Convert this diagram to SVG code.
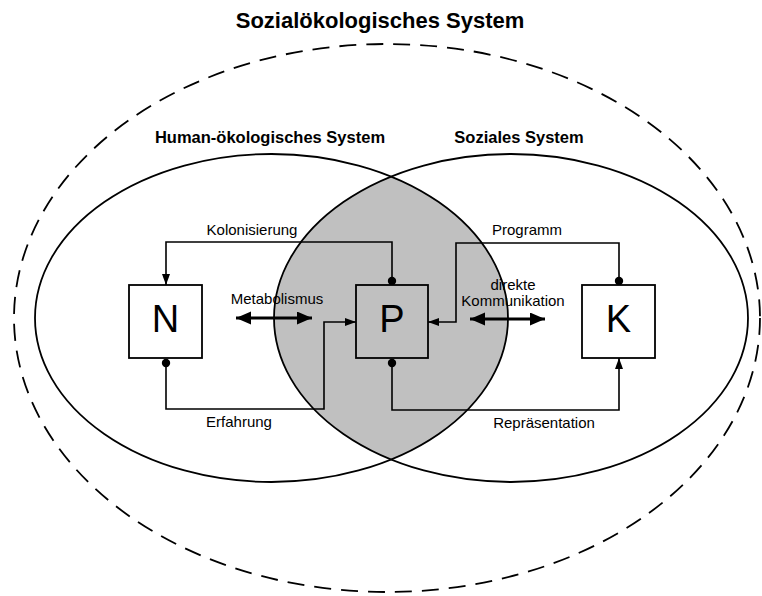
<svg xmlns="http://www.w3.org/2000/svg" width="762" height="596" viewBox="0 0 762 596">
<style>
.t{font-family:"Liberation Sans",Arial,sans-serif;fill:#000}
.b{font-weight:bold}
.lbl{font-size:15px;text-anchor:middle}
.big{font-size:38px;text-anchor:middle}
.el{fill:none;stroke:#000;stroke-width:1.8}
.box{stroke:#000;stroke-width:1.8}
.con{fill:none;stroke:#000;stroke-width:1.6}
.dbl{fill:none;stroke:#000;stroke-width:3}
</style>
<defs>
<clipPath id="clipL"><ellipse cx="271.5" cy="318" rx="236.5" ry="164"/></clipPath>
<marker id="ah" markerUnits="userSpaceOnUse" markerWidth="12" markerHeight="10" refX="11" refY="4" orient="auto">
<path d="M0,0 L11,4 L0,8 z" fill="#000"/>
</marker>
<marker id="dh" markerUnits="userSpaceOnUse" markerWidth="16" markerHeight="14" refX="15" refY="6.5" orient="auto-start-reverse">
<path d="M0,0 L15,6.5 L0,13 z" fill="#000"/>
</marker>
</defs>
<rect width="762" height="596" fill="#fff"/>
<text class="t b" x="380" y="28" font-size="22" text-anchor="middle">Sozialökologisches System</text>
<ellipse id="outer" cx="387" cy="318" rx="373" ry="274" fill="none" stroke="#000" stroke-width="1.8" stroke-dasharray="17 10"/>
<g id="lens">
<ellipse cx="511" cy="318" rx="237" ry="164" fill="#c0c0c0" clip-path="url(#clipL)"/>
</g>
<g id="human-system">
<ellipse class="el" cx="271.5" cy="318" rx="236.5" ry="164"/>
<text class="t b" x="270" y="143" font-size="16.5" text-anchor="middle">Human-ökologisches System</text>
</g>
<g id="social-system">
<ellipse class="el" cx="511" cy="318" rx="237" ry="164"/>
<text class="t b" x="519" y="143" font-size="16.5" text-anchor="middle">Soziales System</text>
</g>
<g id="connectors">
<path class="con" d="M392,281 V242 H166 V285" marker-end="url(#ah)"/>
<path class="con" d="M166,363 V409 H324 V322 H356" marker-end="url(#ah)"/>
<path class="con" d="M619,281 V243 H456 V322 H428" marker-end="url(#ah)"/>
<path class="con" d="M392,363 V410 H619 V358" marker-end="url(#ah)"/>
<circle cx="392" cy="281" r="4.2" fill="#000"/>
<circle cx="166" cy="363" r="4.2" fill="#000"/>
<circle cx="619" cy="281" r="4.2" fill="#000"/>
<circle cx="392" cy="363" r="4.2" fill="#000"/>
<path class="dbl" d="M236,318 H312" marker-start="url(#dh)" marker-end="url(#dh)"/>
<path class="dbl" d="M470,319 H545" marker-start="url(#dh)" marker-end="url(#dh)"/>
<text class="t lbl" x="252" y="235">Kolonisierung</text>
<text class="t lbl" x="239" y="427">Erfahrung</text>
<text class="t lbl" x="527" y="235">Programm</text>
<text class="t lbl" x="544" y="428">Repräsentation</text>
<text class="t lbl" x="277" y="304">Metabolismus</text>
<text class="t lbl" x="513" y="290">direkte</text>
<text class="t lbl" x="513" y="306">Kommunikation</text>
</g>
<g id="N">
<rect class="box" x="129" y="285" width="73" height="73" fill="#fff"/>
<text class="t big" x="165.5" y="332">N</text>
</g>
<g id="P">
<rect class="box" x="356" y="285" width="72" height="73" fill="#c0c0c0"/>
<text class="t big" x="392" y="332">P</text>
</g>
<g id="K">
<rect class="box" x="582" y="285" width="73" height="73" fill="#fff"/>
<text class="t big" x="618.5" y="332">K</text>
</g>
</svg>
